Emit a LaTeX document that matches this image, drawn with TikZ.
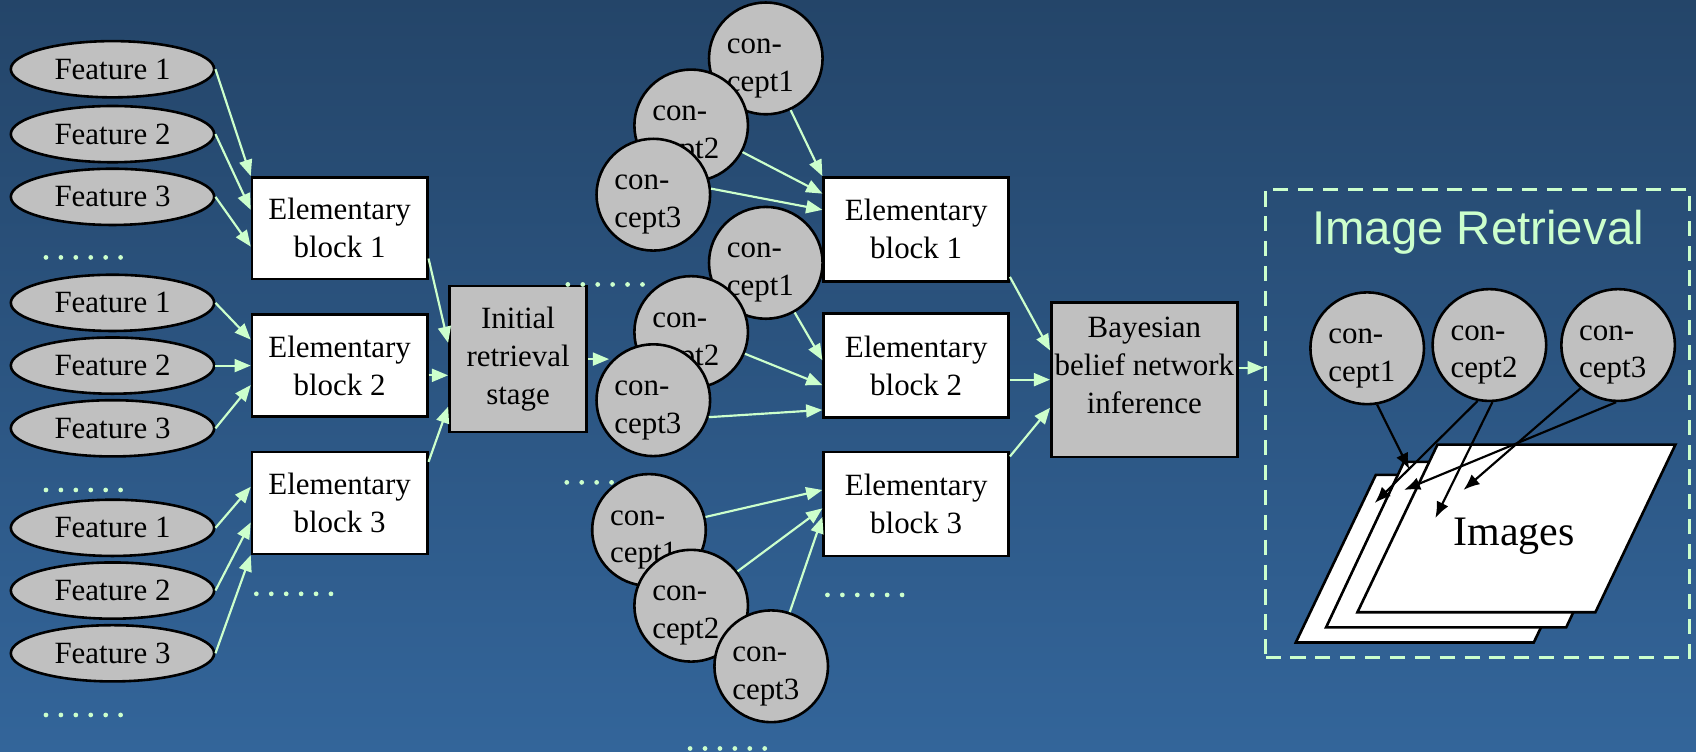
\documentclass[tikz,border=0pt]{standalone}
\usepackage{fontspec}
\setmainfont{Liberation Serif}
\newfontfamily\arialfont{Liberation Sans}
\usetikzlibrary{shapes.geometric, arrows.meta}

\definecolor{bgtop}{RGB}{36,69,105}
\definecolor{bgbot}{RGB}{51,101,154}
\definecolor{mint}{RGB}{204,255,204}
\definecolor{nodegray}{RGB}{192,192,192}

\newcommand{\cpt}[1]{\rule{0pt}{16pt}con-\\cept#1\hspace*{5pt}}

\begin{document}
\begin{tikzpicture}[
    x=0.5pt, y=-0.5pt,
    every node/.style={font=\fontsize{14.3pt}{17.5pt}\selectfont},
    feat/.style={ellipse, draw, fill=nodegray, line width=1.2pt, minimum width=94pt, minimum height=26pt, inner sep=0pt},
    elem/.style={rectangle, draw, fill=white, line width=1.2pt, minimum width=81pt, minimum height=47pt, inner sep=0pt, align=center},
    stage/.style={rectangle, draw, fill=nodegray, line width=1.2pt, inner sep=0pt, align=center},
    concept/.style={ellipse, draw, fill=nodegray, line width=1.2pt, minimum width=52.5pt, minimum height=48pt, inner sep=0pt, align=left},
    sheet/.style={draw, fill=white, line width=1.2pt, line join=miter},
    garrow/.style={-{Triangle[length=7.5pt,width=6pt]}, draw=mint, line width=1pt},
    barrow/.style={-{Latex[length=7.5pt,width=6pt]}, line width=1pt},
    dotrow/.style={draw=mint, line width=2.2pt, line cap=round, dash pattern=on 0pt off 6.9pt}
]

% background
\shade[top color=bgtop, bottom color=bgbot] (0,0) rectangle (1568,695);
\useasboundingbox (0,0) rectangle (1568,695);

% dots
\draw[dotrow] (42.5,238) -- ++(69.5,0);
\draw[dotrow] (42.5,453) -- ++(69.5,0);
\draw[dotrow] (42.5,661) -- ++(69.5,0);
\draw[dotrow] (237,549) -- ++(69.5,0);
\draw[dotrow] (524,446) -- ++(69.5,0);
\draw[dotrow] (765,550) -- ++(69.5,0);
\draw[dotrow] (638,692) -- ++(69.5,0);

% Feature nodes (left)
\node[feat] (fa1) at (104,64) {Feature 1};
\node[feat] (fa2) at (104,124) {Feature 2};
\node[feat] (fa3) at (104,182) {Feature 3};
\node[feat] (fb1) at (104,280) {Feature 1};
\node[feat] (fb2) at (104,338) {Feature 2};
\node[feat] (fb3) at (104,396) {Feature 3};
\node[feat] (fc1) at (104,488) {Feature 1};
\node[feat] (fc2) at (104,546) {Feature 2};
\node[feat] (fc3) at (104,604) {Feature 3};

% Elementary blocks (left)
\node[elem] (blk1) at (314,211) {Elementary\\block 1};
\node[elem] (blk2) at (314,338) {Elementary\\block 2};
\node[elem] (blk3) at (314,465) {Elementary\\block 3};

\node[stage, minimum width=63.5pt, minimum height=67.5pt] (init) at (479,332) {Initial\\retrieval\\stage};
\draw[dotrow] (525,263) -- ++(69.5,0);

% Arrows
\draw[garrow] (fa1.east) -- (blk1.north west);
\draw[garrow] (fa2.east) -- ([yshift=8.5pt]blk1.west);
\draw[garrow] (fa3.east) -- ([yshift=-8.5pt]blk1.west);
\draw[garrow] (fb1.east) -- ([yshift=12pt]blk2.west);
\draw[garrow] (fb2.east) -- (blk2.west);
\draw[garrow] (fb3.east) -- ([yshift=-9pt]blk2.west);
\draw[garrow] (fc1.east) -- ([yshift=7.5pt]blk3.west);
\draw[garrow] (fc2.east) -- ([yshift=-9pt]blk3.west);
\draw[garrow] (fc3.east) -- (blk3.south west);
\draw[garrow] ([yshift=-14pt]blk1.east) -- ([yshift=7.5pt]init.west);
\draw[garrow] ([yshift=-4.5pt]blk2.east) -- ([yshift=-7.5pt]init.west);
\draw[garrow] ([yshift=19pt]blk3.east) -- ([yshift=-22pt]init.west);

% Concept nodes (middle)
\node[concept] (cpa1) at (708,54) {\cpt{1}};
\node[concept] (cpa2) at (639,116) {\cpt{2}};
\node[concept] (cpa3) at (604,180) {\cpt{3}};
\node[concept] (cpb1) at (708,243) {\cpt{1}};
\node[concept] (cpb2) at (639,307) {\cpt{2}};
\node[concept] (cpb3) at (604,370) {\cpt{3}};
\node[concept] (cpc1) at (600,490) {\cpt{1}};
\node[concept] (cpc2) at (639,560) {\cpt{2}};
\node[concept] (cpc3) at (713,616) {\cpt{3}};

\draw[garrow] (init.east) -- (init.east -| cpb3.140);

% Elementary blocks (middle)
\node[elem, minimum width=85.5pt, minimum height=48pt] (mblk1) at (847,212) {Elementary\\block 1};
\node[elem, minimum width=85.5pt, minimum height=48pt] (mblk2) at (847,338) {Elementary\\block 2};
\node[elem, minimum width=85.5pt, minimum height=48pt] (mblk3) at (847,466) {Elementary\\block 3};

\draw[garrow] (cpa1) -- (mblk1.north west);
\draw[garrow] (cpa2) -- ([yshift=16.5pt]mblk1.west);
\draw[garrow] (cpa3.6) -- ([yshift=9pt]mblk1.west);
\draw[garrow] (cpb1) -- ([yshift=2.5pt]mblk2.west);
\draw[garrow] (cpb2) -- ([yshift=-9pt]mblk2.west);
\draw[garrow] (cpb3.343) -- ([yshift=-20.5pt]mblk2.west);
\draw[garrow] (cpc1) -- ([yshift=6.5pt]mblk3.west);
\draw[garrow] (cpc2) -- ([yshift=-2pt]mblk3.west);
\draw[garrow] (cpc3) -- ([yshift=-6pt]mblk3.west);

% Bayesian inference
\node[stage, minimum width=86pt, minimum height=71.5pt] (bbn) at (1058,351) {Bayesian\\belief network\\inference\rule[-13pt]{0pt}{0pt}};
\draw[garrow] ([yshift=-22pt]mblk1.east) -- ([yshift=13.5pt]bbn.west);
\draw[garrow] ([yshift=-6.5pt]mblk2.east) -- (bbn.west);
\draw[garrow] ([yshift=22pt]mblk3.east) -- ([yshift=-13pt]bbn.west);

% Image retrieval
\node[draw=mint, line width=1.5pt, dash pattern=on 7pt off 4.5pt, minimum width=196pt, minimum height=216.5pt] (irbox) at (1366,391.5) {};
\node[font=\arialfont\fontsize{21.9pt}{26pt}\selectfont, text=mint, anchor=base] (irtitle) at (1366.5,226.5) {Image Retrieval};
\coordinate (bout) at ([yshift=5.5pt]bbn.east);
\draw[garrow] (bout) -- (bout -| irbox.west);

\node[concept] (ir1) at (1264,322) {\cpt{1}};
\node[concept] (ir2) at (1377,319) {\cpt{2}};
\node[concept] (ir3) at (1496,319) {\cpt{3}};

\draw[sheet] (1198,594) -- ++(220,0) -- ++(74,-155) -- ++(-220,0) -- cycle;
\draw[sheet] (1226,580) -- ++(222,0) -- ++(72,-153) -- ++(-222,0) -- cycle;
\draw[sheet] (1255,566) -- ++(220,0) -- ++(74,-155) -- ++(-220,0) -- cycle;
\node[font=\fontsize{19.4pt}{23pt}\selectfont, anchor=base] (imgs) at (1400,504) {Images};

\coordinate (t1) at (1303,434);
\coordinate (t2) at (1271,465);
\coordinate (t3) at (1327,479);
\coordinate (t4) at (1353,453);
\coordinate (t5) at (1298,453);
\draw[barrow] (ir1.280) -- (t1);
\draw[barrow] (ir2.258) -- (t2);
\draw[barrow] (ir2.273) -- (t3);
\draw[barrow] (ir3.229) -- (t4);
\draw[barrow] (ir3.268) -- (t5);

\end{tikzpicture}
\end{document}
